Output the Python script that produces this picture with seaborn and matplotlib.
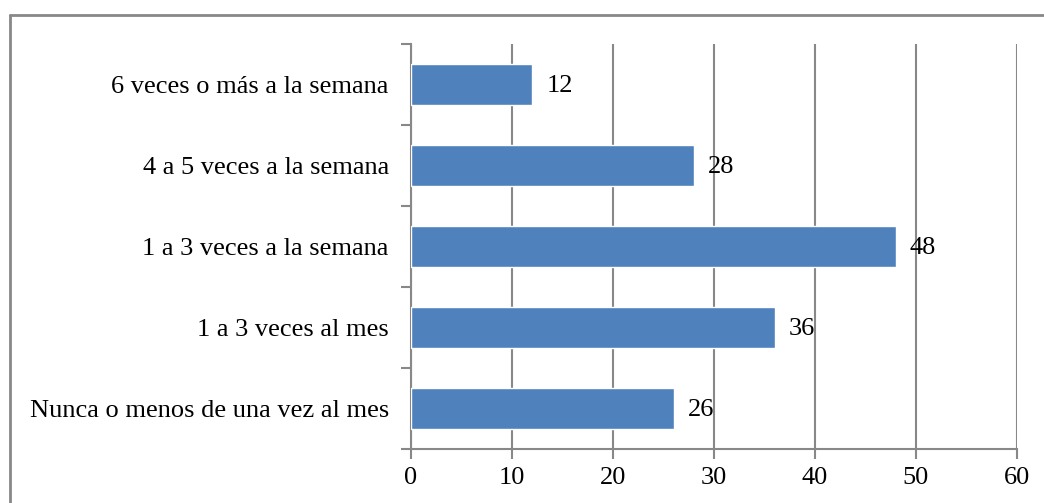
import matplotlib
matplotlib.use("Agg")
import matplotlib.pyplot as plt
import seaborn as sns
import pandas as pd
from matplotlib.lines import Line2D

# data (top to bottom as shown)
categories = ["6 veces o más a la semana", "4 a 5 veces a la semana",
              "1 a 3 veces a la semana", "1 a 3 veces al mes",
              "Nunca o menos de una vez al mes"]
values = [12, 28, 48, 36, 26]
x_ticks = [0, 10, 20, 30, 40, 50, 60]

df = pd.DataFrame({"cat": categories, "val": values})

sns.set_style("white")
plt.rcParams["font.family"] = ["Liberation Serif", "DejaVu Serif"]
plt.rcParams["text.color"] = "black"
plt.rcParams["xtick.color"] = "black"
plt.rcParams["ytick.color"] = "black"

fig = plt.figure(figsize=(10.44, 5.03), dpi=100)
ax = fig.add_axes([411/1044, 1 - 449/503, (1017 - 411)/1044, (449 - 44)/503])

grey = "#888888"
sns.barplot(data=df, x="val", y="cat", orient="h", color="#4F81BD",
            width=0.5, saturation=1, ax=ax, zorder=3)

# value labels
for i, v in enumerate(values):
    ax.text(v + 1.4, i + 0.02, str(v), va="center", ha="left", fontsize=19, color="black", zorder=4)

ax.set_xlim(0, 60)
ax.set_ylim(len(categories) - 0.5, -0.5)
ax.set_xticks(x_ticks)
ax.set_xticklabels([str(t) for t in x_ticks], fontsize=19)
ax.xaxis.grid(True, color=grey, linewidth=1.5, zorder=0)
ax.set_axisbelow(True)

# y ticks at band edges, labels at centers
ax.set_yticks([i - 0.5 for i in range(len(categories) + 1)])
ax.set_yticklabels([])
ax.set_yticks(range(len(categories)), minor=True)
ax.set_yticklabels(categories, minor=True, fontsize=19)
ax.tick_params(axis="y", which="minor", left=True, length=0, pad=16)
ax.tick_params(axis="y", which="major", left=True, length=7, width=1.5, color=grey, direction="out")
ax.tick_params(axis="x", bottom=True, length=7, width=1.5, color=grey, direction="out", pad=6,
               labelcolor="black")

ax.set_xlabel("")
ax.set_ylabel("")
for s in ["top", "right"]:
    ax.spines[s].set_visible(False)
for s in ["left", "bottom"]:
    ax.spines[s].set_color(grey)
    ax.spines[s].set_linewidth(1.5)

# outer chart border (top and left visible)
fig.add_artist(Line2D([10/1044, 1.0], [1 - 15/503, 1 - 15/503], color=grey, linewidth=2))
fig.add_artist(Line2D([10/1044, 10/1044], [1 - 15/503, 0.0], color=grey, linewidth=2))

fig.savefig("out.png", dpi=100)
